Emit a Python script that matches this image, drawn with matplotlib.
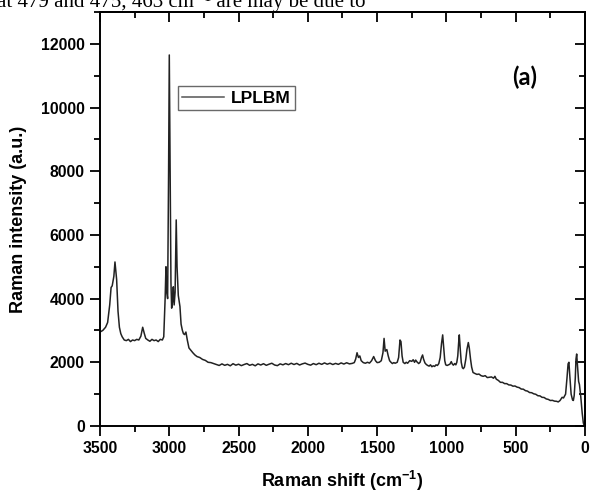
import matplotlib
matplotlib.use("Agg")
import matplotlib.pyplot as plt
from matplotlib.ticker import MultipleLocator

plt.rcParams["font.family"] = ["Liberation Sans", "DejaVu Sans"]
plt.rcParams["mathtext.fontset"] = "custom"
plt.rcParams["mathtext.rm"] = "Liberation Sans:bold"
plt.rcParams["mathtext.bf"] = "Liberation Sans:bold"

# Raman spectrum (shift in cm^-1, intensity in a.u.)
shift = [
    3500, 3480, 3460, 3445, 3430, 3420, 3412, 3400, 3392, 3380, 3370, 3360,
    3350, 3340, 3325, 3310, 3295, 3280, 3265, 3250, 3235, 3220, 3205, 3192,
    3180, 3170, 3155, 3140, 3125, 3110, 3095, 3080, 3065, 3050, 3040, 3030,
    3024, 3018, 3012, 3005, 3000, 2995, 2988, 2983, 2977, 2971, 2965, 2958,
    2950, 2944, 2935, 2923, 2915, 2906, 2898, 2890, 2880, 2870, 2858, 2845,
    2830, 2815, 2800, 2780, 2760, 2740, 2720, 2700, 2680, 2660,
    2640, 2620, 2600, 2580, 2560, 2540, 2520, 2500, 2480, 2460, 2440, 2420,
    2400, 2380, 2360, 2340, 2320, 2300, 2280, 2260, 2240, 2220, 2200, 2180,
    2160, 2140, 2120, 2100, 2080, 2060, 2040, 2020, 2000, 1980, 1960, 1940,
    1920, 1900, 1880, 1860, 1840, 1820, 1800, 1780, 1760, 1740, 1720, 1700,
    1680, 1665, 1655, 1645, 1635, 1625, 1615, 1600, 1585, 1570, 1555, 1540,
    1525, 1512, 1500, 1485, 1470, 1458, 1450, 1442, 1430, 1420, 1410, 1400,
    1390, 1380, 1370, 1355, 1345, 1335, 1328, 1320, 1312, 1300, 1290, 1280,
    1265, 1250, 1240, 1230, 1222, 1212, 1200, 1190, 1180, 1172, 1165, 1155,
    1145, 1135, 1125, 1115, 1105, 1095, 1085, 1075, 1065, 1055, 1045, 1035,
    1027, 1020, 1012, 1005, 995, 985, 975, 965, 958, 950, 940, 932,
    925, 918, 912, 907, 900, 893, 885, 878, 870, 860, 852, 842,
    835, 826, 818, 808, 795, 780, 765, 750, 735, 720, 705, 690,
    675, 660, 650, 640, 625, 610, 595, 580, 565, 550, 535, 520,
    505, 490, 475, 460, 445, 430, 415, 400, 385, 370, 355, 340,
    325, 310, 295, 280, 265, 250, 235, 220, 205, 193, 180, 165,
    155, 140, 130, 122, 116, 110, 100, 90, 84, 78, 70, 65,
    60, 54, 46, 40, 30, 20, 12, 5,
]
intensity = [
    2950, 3000, 3100, 3250, 3800, 4350, 4400, 4700, 5150, 4600, 3600, 3100,
    2900, 2800, 2700, 2680, 2720, 2650, 2700, 2680, 2720, 2700, 2820, 3100,
    2900, 2750, 2700, 2660, 2720, 2680, 2700, 2650, 2720, 2700, 2800, 4000,
    5000, 4200, 4000, 8000, 11650, 8500, 4500, 3700, 3900, 4370, 3800, 4200,
    6470, 5000, 4100, 3750, 3200, 3010, 2900, 2870, 2950, 2700, 2450, 2380,
    2300, 2230, 2180, 2150, 2090, 2060, 2000, 1990, 1960, 1930,
    1900, 1950, 1905, 1935, 1890, 1955, 1910, 1940, 1895, 1930, 1960, 1905,
    1935, 1890, 1950, 1915, 1955, 1905, 1940, 1970, 1915, 1895, 1950, 1920,
    1960, 1925, 1970, 1930, 1965, 1915, 1950, 1975, 1935, 1910, 1960, 1925,
    1970, 1935, 1980, 1940, 1970, 1930, 1965, 1935, 1980, 1945, 1985, 1950,
    1965, 1990, 2100, 2300, 2150, 2200, 2050, 1990, 1970, 2000, 1975, 2050,
    2180, 2050, 1990, 2000, 2050, 2300, 2750, 2350, 2400, 2200, 2050, 2000,
    1960, 1990, 1970, 2000, 2150, 2700, 2650, 2200, 2000, 1960, 2000, 1970,
    2050, 2030, 2080, 2000, 2070, 2010, 1960, 2000, 2150, 2230, 2100, 1980,
    1930, 1900, 1880, 1920, 1860, 1890, 1870, 1920, 1900, 1960, 2150, 2600,
    2860, 2500, 2050, 1920, 1900, 1920, 1940, 2020, 1950, 1910, 1960, 1920,
    2000, 2200, 2600, 2860, 2400, 2000, 1830, 1800, 1850, 2100, 2400, 2620,
    2450, 2100, 1850, 1680, 1650, 1620, 1630, 1580, 1560, 1580, 1520, 1530,
    1540, 1500, 1560, 1470, 1430, 1370, 1370, 1330, 1330, 1290, 1285, 1250,
    1255, 1220, 1205, 1160, 1155, 1110, 1095, 1050, 1045, 1010, 995, 950,
    945, 900, 895, 850, 835, 800, 805, 780, 775, 755, 800, 900,
    880, 1000, 1500, 1950, 2000, 1600, 1000, 820, 800, 950, 1500, 2100,
    2260, 1900, 1400, 1300, 900, 400, 100, 0,
]

x_ticks = [3500, 3000, 2500, 2000, 1500, 1000, 500, 0]
y_ticks = [0, 2000, 4000, 6000, 8000, 10000, 12000]

fig = plt.figure(figsize=(5.9, 4.97), dpi=100)
ax = fig.add_axes([0.1695, 0.1429, 0.822, 0.833])

ax.plot(shift, intensity, color="#222222", linewidth=1.1, label="LPLBM")

ax.set_xlim(3500, 0)
ax.set_ylim(0, 13000)
ax.set_xticks(x_ticks)
ax.set_yticks(y_ticks)
ax.xaxis.set_minor_locator(MultipleLocator(250))
ax.yaxis.set_minor_locator(MultipleLocator(1000))
ax.tick_params(which="major", direction="out", length=7, width=1.3,
               labelsize=11.3, pad=4)
ax.tick_params(which="minor", direction="out", length=4, width=1.3)
for lab in ax.get_xticklabels() + ax.get_yticklabels():
    lab.set_fontweight("bold")
for sp in ax.spines.values():
    sp.set_linewidth(1.4)

top = ax.secondary_xaxis("top")
top.set_xticks(x_ticks)
top.xaxis.set_minor_locator(MultipleLocator(250))
top.tick_params(which="major", direction="in", length=7, width=1.3, labeltop=False)
top.tick_params(which="minor", direction="in", length=4, width=1.3)
top.spines["top"].set_linewidth(1.4)

right = ax.secondary_yaxis("right")
right.set_yticks(y_ticks)
right.yaxis.set_minor_locator(MultipleLocator(1000))
right.tick_params(which="major", direction="in", length=7, width=1.3, labelright=False)
right.tick_params(which="minor", direction="in", length=4, width=1.3)
right.spines["right"].set_linewidth(1.4)

ax.set_xlabel(r"Raman shift (cm$^{-1}$)", fontsize=13, fontweight="bold", labelpad=9)
ax.set_ylabel("Raman intensity (a.u.)", fontsize=13, fontweight="bold", labelpad=10)

leg = ax.legend(loc="upper left", bbox_to_anchor=(0.161, 0.821), borderaxespad=0,
                frameon=True, fancybox=False, handlelength=2.4, handletextpad=0.4,
                borderpad=0.25, prop={"weight": "bold", "size": 12.5})
leg.get_frame().set_edgecolor("#444444")
leg.get_frame().set_linewidth(1.0)
leg.get_lines()[0].set_color("#555555")

ax.text(0.876, 0.843, "(a)", transform=ax.transAxes, ha="center", va="center",
        fontsize=17, family=["Lato", "DejaVu Sans"], fontweight="bold")

fig.text(-0.005, 0.985, "at 479 and 475, 463 cm\u207b\u00b9 are may be due to",
         ha="left", va="baseline", fontsize=15,
         family=["Liberation Serif", "DejaVu Serif"])

fig.savefig("out.png", dpi=100)
